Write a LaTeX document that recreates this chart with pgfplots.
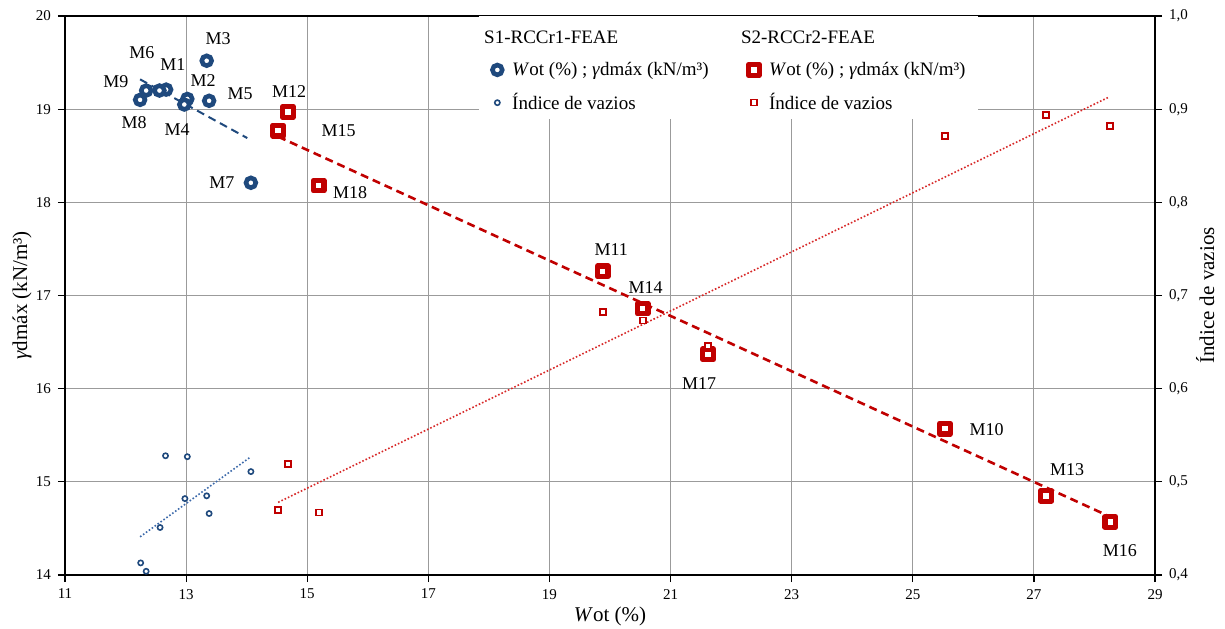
\documentclass[border=0pt]{standalone}
\usepackage{fontspec}
\setmainfont{Liberation Serif}
\usepackage{pgfplots}
\pgfplotsset{compat=1.18}
\definecolor{sblue}{RGB}{31,73,125}
\definecolor{sred}{RGB}{192,0,0}
\definecolor{tblue}{RGB}{60,105,170}
\definecolor{tred}{RGB}{215,40,40}
\definecolor{gridc}{RGB}{155,155,155}
\pgfplotsset{mylegmark/.style={legend image code/.code={\path (0cm,0cm) (0.3cm,0cm); \draw[##1] plot coordinates {(0.15cm,0cm)};}}}
\begin{document}
\begin{tikzpicture}
\useasboundingbox (-32.5pt,-26.5pt) rectangle (580pt,287.5pt);
\begin{axis}[
  at={(0,0)}, anchor=south west,
  scale only axis, width=545pt, height=279.5pt,
  xmin=11, xmax=29, ymin=14, ymax=20,
  xtick={11,13,...,29}, ytick={14,15,...,20},
  xtick pos=bottom, ytick pos=left,
  tick align=outside, major tick length=3.5pt,
  grid=major, major grid style={gridc, line width=0.5pt},
  axis line style={black, line width=0.9pt},
  tick style={black, line width=0.6pt},
  ticklabel style={font=\fontsize{7.5}{9}\selectfont},
  /pgf/number format/assume math mode=true,
  label style={font=\fontsize{10.5}{12}\selectfont},
  xlabel={\textit{W}ot (\%)},
  ylabel={\textit{γ}dmáx (kN/m³)},
  xlabel style={at={(axis description cs:0.5,-0.075)}, anchor=center},
  ylabel style={at={(axis description cs:-0.0395,0.5)}, anchor=center},
  clip=false,
]
\addplot[sblue, line width=1pt, dash pattern=on 4pt off 2.5pt] coordinates {(12.24,19.32) (14.01,18.69)};
\addplot[sred, line width=1.3pt, dash pattern=on 4pt off 2.5pt] coordinates {(14.52,18.705) (28.26,14.625)};
% S1 gamma: M1..M9
\addplot[only marks, mark=*, mark size=2.45pt, draw=sblue, fill=white, line width=2.3pt] table {
x y
12.67 19.21
13.02 19.11
13.34 19.52
12.97 19.05
13.38 19.09
12.56 19.20
14.07 18.21
12.24 19.10
12.34 19.20
};
% S2 gamma: M10..M18
\addplot[only marks, mark=square*, mark size=2.65pt, draw=sred, fill=white, line width=2.6pt, line join=round] table {
x y
25.53 15.57
19.88 17.26
14.68 18.97
27.20 14.85
20.54 16.86
14.52 18.77
28.26 14.57
21.62 16.37
15.19 18.18
};
\begin{scope}[font=\fontsize{9}{10}\selectfont]
\node at (axis cs:12.78,19.48) {M1};
\node at (axis cs:13.28,19.31) {M2};
\node at (axis cs:13.53,19.76) {M3};
\node at (axis cs:12.85,18.78) {M4};
\node at (axis cs:13.89,19.17) {M5};
\node at (axis cs:12.27,19.61) {M6};
\node at (axis cs:13.59,18.21) {M7};
\node at (axis cs:12.14,18.86) {M8};
\node at (axis cs:11.84,19.30) {M9};
\node at (axis cs:26.22,15.56) {M10};
\node at (axis cs:20.02,17.49) {M11};
\node at (axis cs:14.70,19.19) {M12};
\node at (axis cs:27.55,15.13) {M13};
\node at (axis cs:20.59,17.09) {M14};
\node at (axis cs:15.52,18.77) {M15};
\node at (axis cs:28.42,14.26) {M16};
\node at (axis cs:21.47,16.05) {M17};
\node at (axis cs:15.71,18.10) {M18};
\end{scope}
\end{axis}
\begin{axis}[
  at={(0,0)}, anchor=south west,
  scale only axis, width=545pt, height=279.5pt,
  xmin=11, xmax=29, ymin=0.4, ymax=1.0,
  axis x line=none, axis y line*=right,
  ytick={0.4,0.5,0.6,0.7,0.8,0.9,1.0},
  tick align=outside, major tick length=3.5pt,
  axis line style={black, line width=0.9pt},
  tick style={black, line width=0.6pt},
  ticklabel style={font=\fontsize{7.5}{9}\selectfont},
  yticklabel style={/pgf/number format/.cd, fixed, fixed zerofill, precision=1, use comma, assume math mode=true},
  label style={font=\fontsize{10.5}{12}\selectfont},
  ylabel={Índice de vazios},
  ylabel style={at={(axis description cs:1.046,0.5)}, anchor=center},
  clip=false,
  legend columns=2,
  legend cell align=left,
  legend style={at={(axis description cs:0.379,1)}, anchor=north west, draw=none, fill=white,
    font=\fontsize{9.5}{11}\selectfont, inner xsep=4pt, inner ysep=2.2pt, row sep=5.5pt,
    nodes={inner ysep=1pt},
    /tikz/every even column/.append style={column sep=15pt}},
]
\addplot[forget plot, tblue, line width=0.8pt, dash pattern=on 0.8pt off 1pt] coordinates {(12.24,0.441) (14.07,0.527)};
\addplot[forget plot, tred, line width=0.8pt, dash pattern=on 0.8pt off 1pt] coordinates {(14.52,0.478) (28.24,0.913)};
\addplot[forget plot, only marks, mark=*, mark size=1.3pt, draw=sblue, fill=white, line width=0.8pt] table {
x y
12.66 0.528
13.02 0.527
13.34 0.485
12.98 0.482
13.38 0.466
12.57 0.451
14.07 0.511
12.25 0.413
12.34 0.404
};
\addplot[forget plot, only marks, mark=square*, mark size=1.5pt, draw=sred, fill=white, line width=0.8pt] table {
x y
25.53 0.871
19.88 0.682
14.68 0.519
27.20 0.894
20.54 0.673
14.52 0.470
28.26 0.882
21.62 0.646
15.19 0.467
};
\addlegendimage{empty legend}
\addlegendentry{\hspace*{-14pt}\rule{0pt}{10.5pt}S1-RCCr1-FEAE}
\addlegendimage{empty legend}
\addlegendentry{\hspace*{-14pt}\rule{0pt}{10.5pt}S2-RCCr2-FEAE}
\addlegendimage{only marks, mark=*, mark size=2.45pt, draw=sblue, fill=white, line width=2.3pt, mylegmark}
\addlegendentry{\textit{W}ot (\%)~; \textit{γ}dmáx (kN/m³)}
\addlegendimage{only marks, mark=square*, mark size=2.65pt, draw=sred, fill=white, line width=2.6pt, line join=round, mylegmark}
\addlegendentry{\textit{W}ot (\%)~; \textit{γ}dmáx (kN/m³)}
\addlegendimage{only marks, mark=*, mark size=1.3pt, draw=sblue, fill=white, line width=0.8pt, mylegmark}
\addlegendentry{Índice de vazios}
\addlegendimage{only marks, mark=square*, mark size=1.5pt, draw=sred, fill=white, line width=0.8pt, mylegmark}
\addlegendentry{Índice de vazios}
\end{axis}
\end{tikzpicture}
\end{document}
